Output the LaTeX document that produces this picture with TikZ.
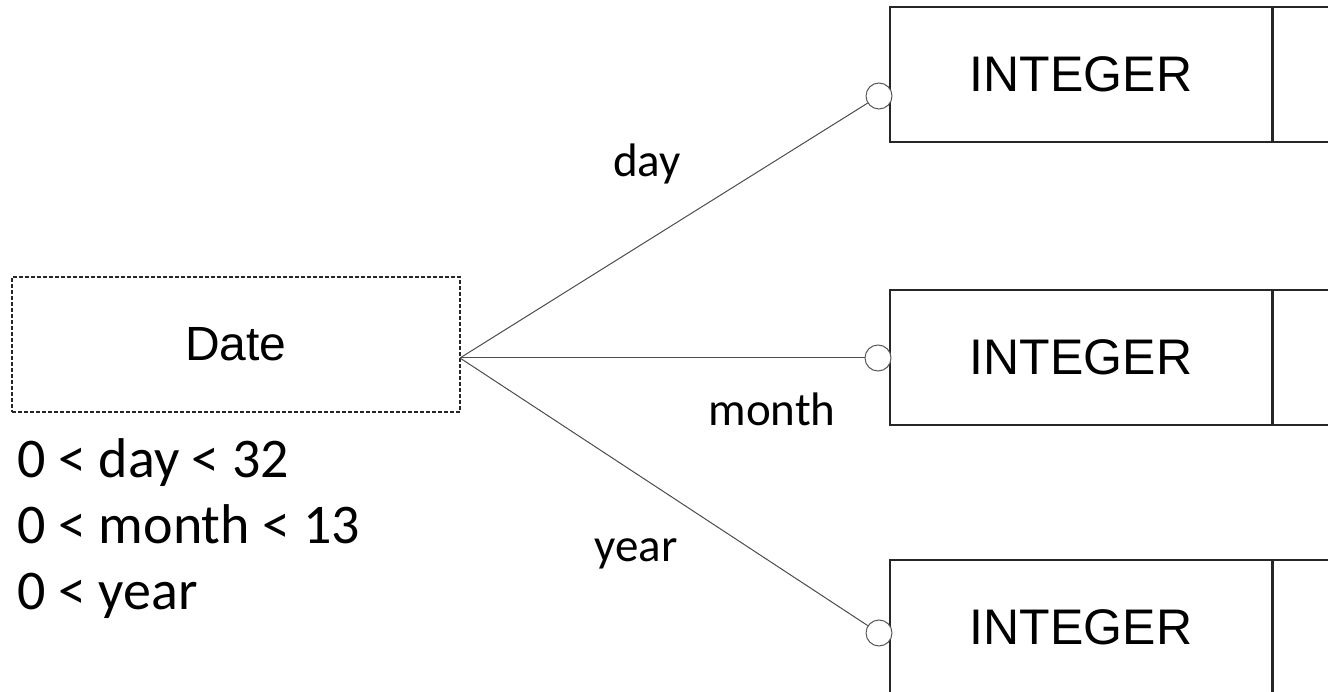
\documentclass[tikz,border=0pt]{standalone}
\usepackage{fontspec}
\setmainfont{Liberation Sans}
\newfontfamily\calibri{Carlito}
\usetikzlibrary{calc,positioning}

\begin{document}
\begin{tikzpicture}[x=1pt,y=-1pt,
  entbox/.style={draw=black!85, line width=1.6pt, minimum width=382pt, minimum height=135pt, inner sep=0pt, font=\fontsize{50}{60}\selectfont},
  typebox/.style={draw=black!85, line width=1.5pt, dash pattern=on 4pt off 2pt, minimum width=448pt, minimum height=135pt, inner sep=0pt, font=\fontsize{48}{58}\selectfont},
  ring/.style={circle, draw=black!65, fill=white, line width=1pt, minimum size=26pt, inner sep=0pt},
  link/.style={draw=black!70, line width=1pt},
  rolelabel/.style={anchor=base, inner sep=0pt, font=\calibri\fontsize{47}{56}\selectfont},
  rule/.style={anchor=base west, inner sep=0pt, font=\calibri\fontsize{56}{67}\selectfont}]
\useasboundingbox (0,0) rectangle (1328,692);
\clip (0,0) rectangle (1328,692);

% value type
\node[typebox] (date) at (236,344.5) {Date};
\coordinate (hub) at (460,358);
\node[rule] (con1) at (17,477) {0 < day < 32};
\node[rule] (con2) at (17,543) {0 < month < 13};
\node[rule] (con3) at (17,609) {0 < year};

% entity types
\node[entbox] (int1) at (1081,74.5) {INTEGER};
\node[entbox] (int2) at (1081,357.5) {INTEGER};
\node[entbox] (int3) at (1081,627.5) {INTEGER};
\node[entbox, anchor=west, minimum width=120pt] (int1r) at (int1.east) {};
\node[entbox, anchor=west, minimum width=120pt] (int2r) at (int2.east) {};
\node[entbox, anchor=west, minimum width=120pt] (int3r) at (int3.east) {};

% roles
\node[ring] (c1) at (879,96) {};
\node[ring] (c2) at (878,358) {};
\node[ring] (c3) at (879,633) {};
\draw[link] (hub) -- (c1);
\draw[link] (hub) -- (c2);
\draw[link] (hub) -- (c3);

\node[rolelabel] (lday) at (647,177) {day};
\node[rolelabel] (lmonth) at (772,425) {month};
\node[rolelabel] (lyear) at (636,561) {year};
\end{tikzpicture}
\end{document}
